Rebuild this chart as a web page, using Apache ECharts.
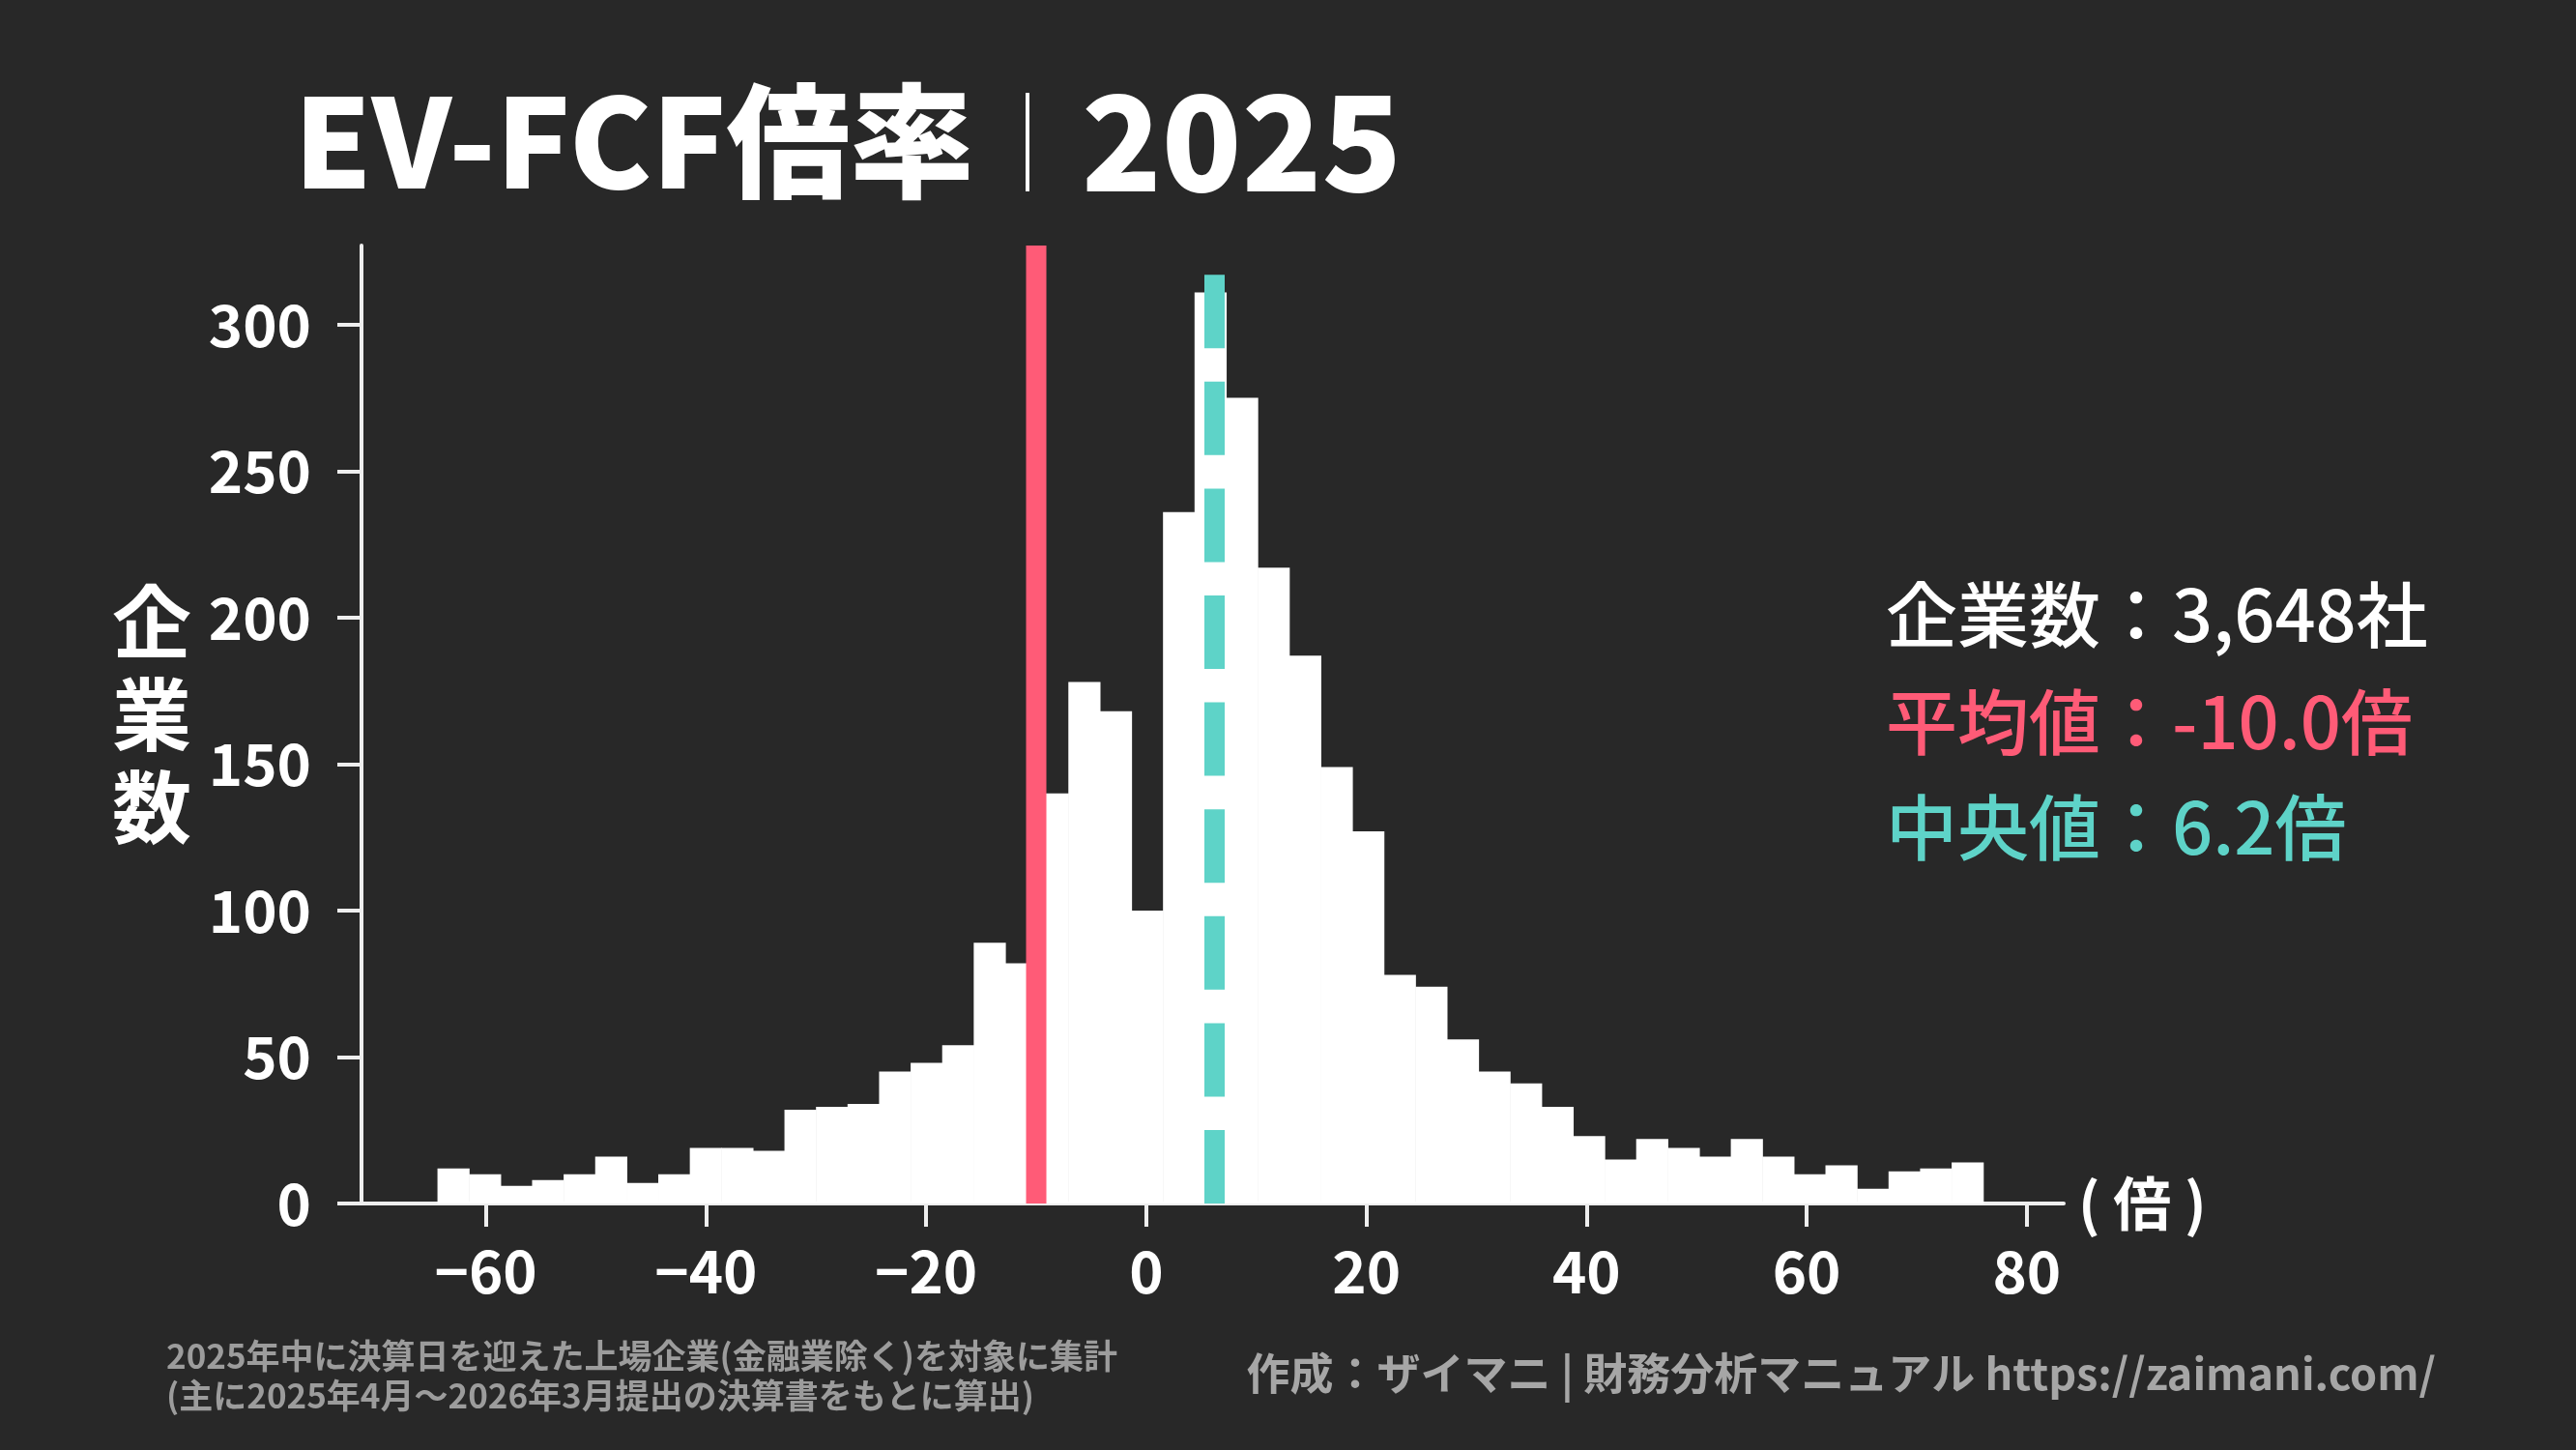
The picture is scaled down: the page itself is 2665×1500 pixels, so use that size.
<!DOCTYPE html>
<html>
<head>
<meta charset="utf-8">
<script src="https://cdn.jsdelivr.net/npm/echarts@6/dist/echarts.min.js"></script>
<style>
html,body{margin:0;padding:0;background:#282828;}
#c{width:2665px;height:1500px;}
</style>
</head>
<body>
<div id="c"></div>
<script>
// ---- data ----
const binStart = -64.4;
const binWidth = 2.866;
const counts = [12,10,6,8,10,16,7,10,19,19,18,32,33,34,45,48,54,
  89,82,140,178,168,100,236,311,275,217,
  187,149,127,78,74,56,45,41,33,23,
  15,22,19,16,22,16,10,13,5,11,12,14];
const xTicks = [-60,-40,-20,0,20,40,60,80];
const yTicks = [0,50,100,150,200,250,300];
const meanValue = -10.0;
const medianValue = 6.2;
const companyCount = '3,648';
const xMin = -71.3, xMax = 83.35, yMax = 327;

const FONT = '"Noto Sans CJK JP","Noto Sans",sans-serif';
const RED = '#ff5b77';
const TEAL = '#5ed3c8';

const histData = counts.map((c, i) => [binStart + i * binWidth, binStart + (i + 1) * binWidth, c]);

const chart = echarts.init(document.getElementById('c'), null, {renderer: 'canvas', width: 2665, height: 1500});

chart.setOption({
  backgroundColor: '#282828',
  animation: false,
  grid: {left: 374, right: 530, top: 254, bottom: 255, containLabel: false},
  xAxis: {
    type: 'value', min: xMin, max: xMax,
    axisLine: {show: true, onZero: false, lineStyle: {color: '#eeeeee', width: 4}},
    axisTick: {show: true, length: 24, lineStyle: {color: '#eeeeee', width: 4}, customValues: xTicks},
    axisLabel: {
      customValues: xTicks, margin: 40, color: '#ffffff',
      fontFamily: FONT, fontSize: 60, fontWeight: 'bold',
      formatter: v => (v < 0 ? '\u2212' + Math.abs(v) : String(v))
    },
    splitLine: {show: false}
  },
  yAxis: {
    type: 'value', min: 0, max: yMax,
    axisLine: {show: true, onZero: false, lineStyle: {color: '#eeeeee', width: 4}},
    axisTick: {show: true, length: 25, lineStyle: {color: '#eeeeee', width: 4}, customValues: yTicks},
    axisLabel: {
      customValues: yTicks, margin: 52, color: '#ffffff',
      fontFamily: FONT, fontSize: 60, fontWeight: 'bold'
    },
    splitLine: {show: false}
  },
  series: [
    {
      type: 'custom',
      data: histData,
      encode: {x: [0, 1], y: 2},
      renderItem: function (params, api) {
        const x0 = api.value(0), x1 = api.value(1), c = api.value(2);
        const p0 = api.coord([x0, c]);
        const p1 = api.coord([x1, 0]);
        return {
          type: 'rect',
          shape: {x: p0[0], y: p0[1], width: p1[0] - p0[0] + 0.6, height: p1[1] - p0[1]},
          style: {fill: '#ffffff'}
        };
      },
      z: 2
    },
    {
      type: 'line',
      data: [[meanValue, 0], [meanValue, yMax]],
      symbol: 'none',
      lineStyle: {color: RED, width: 21, cap: 'butt'},
      z: 3
    },
    {
      type: 'line',
      data: [[medianValue, 0], [medianValue, yMax]],
      symbol: 'none',
      lineStyle: {color: TEAL, width: 21, cap: 'butt', type: [76, 34.6]},
      z: 4
    }
  ],
  graphic: [
    {type: 'text', x: 304, y: 146, style: {
      text: 'EV-FCF倍率', fill: '#ffffff', font: '900 128px ' + FONT,
      textAlign: 'left', textVerticalAlign: 'middle'
    }, silent: true},
    {type: 'rect', shape: {x: 1061, y: 96, width: 4, height: 102}, style: {fill: '#ffffff'}, silent: true},
    {type: 'text', x: 1119, y: 146, style: {
      text: '2025', fill: '#ffffff', font: '900 136px ' + FONT,
      textAlign: 'left', textVerticalAlign: 'middle'
    }, silent: true},
    {type: 'text', x: 157, y: 739, style: {
      text: '企\n業\n数', fill: '#ffffff', font: 'bold 82px ' + FONT, lineHeight: 96,
      textAlign: 'center', textVerticalAlign: 'middle'
    }, silent: true},
    {type: 'text', x: 1951, y: 636, style: {
      text: '企業数：' + companyCount + '社', fill: '#ffffff', font: '500 74px ' + FONT,
      textAlign: 'left', textVerticalAlign: 'middle'
    }, silent: true},
    {type: 'text', x: 1951, y: 747, style: {
      text: '平均値：' + meanValue.toFixed(1) + '倍', fill: RED, font: '500 74px ' + FONT,
      textAlign: 'left', textVerticalAlign: 'middle'
    }, silent: true},
    {type: 'text', x: 1951, y: 856, style: {
      text: '中央値：' + medianValue.toFixed(1) + '倍', fill: TEAL, font: '500 74px ' + FONT,
      textAlign: 'left', textVerticalAlign: 'middle'
    }, silent: true},
    {type: 'text', x: 2150, y: 1245, style: {
      text: '( 倍 )', fill: '#ffffff', font: 'bold 60px ' + FONT,
      textAlign: 'left', textVerticalAlign: 'middle'
    }, silent: true},
    {type: 'text', x: 172, y: 1423, style: {
      text: '2025年中に決算日を迎えた上場企業(金融業除く)を対象に集計\n(主に2025年4月〜2026年3月提出の決算書をもとに算出)',
      fill: '#9c9c9c', font: 'bold 35px ' + FONT, lineHeight: 41,
      textAlign: 'left', textVerticalAlign: 'middle'
    }, silent: true},
    {type: 'text', x: 2520, y: 1421, style: {
      text: '作成：ザイマニ | 財務分析マニュアル https://zaimani.com/',
      fill: '#a6a6a6', font: 'bold 45px ' + FONT,
      textAlign: 'right', textVerticalAlign: 'middle'
    }, silent: true}
  ]
});
</script>
</body>
</html>
